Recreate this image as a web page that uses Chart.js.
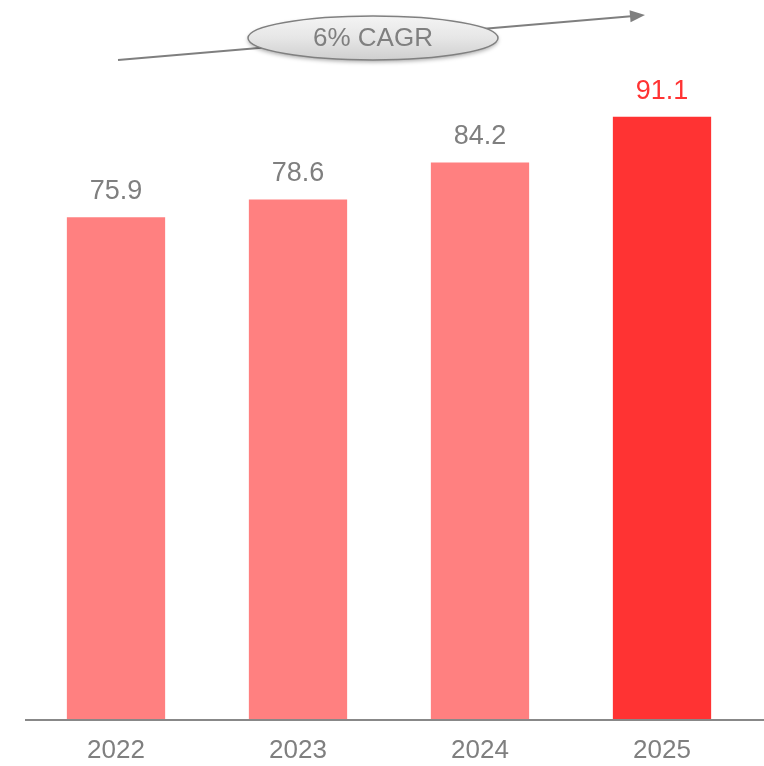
<!DOCTYPE html>
<html>
<head>
<meta charset="utf-8">
<title>Market size 2022-2025</title>
<style>
  html, body { margin: 0; padding: 0; background: #fff; }
</style>
</head>
<body>
<canvas id="myChart" width="764" height="766"></canvas>
<script src="https://cdn.jsdelivr.net/npm/chart.js"></script>
<script>
  // data
  const years = ['2022', '2023', '2024', '2025'];
  const values = [75.9, 78.6, 84.2, 91.1];
  const cagrLabel = '6% CAGR';

  const barColors = ['#ff8080', '#ff8080', '#ff8080', '#ff3333'];
  const labelColors = ['#7f7f7f', '#7f7f7f', '#7f7f7f', '#ff3333'];
  const fontFamily = '"Liberation Sans", Arial, sans-serif';

  // value labels over the bars, baseline and the CAGR arrow
  const decorations = {
    id: 'decorations',
    beforeDatasetsDraw(chart) {
      const c = chart.ctx;
      const y0 = chart.scales.y.getPixelForValue(0);
      c.save();
      c.strokeStyle = '#888888';
      c.lineWidth = 2;
      c.beginPath();
      c.moveTo(chart.chartArea.left, y0 + 1);
      c.lineTo(chart.width, y0 + 1);
      c.stroke();
      c.restore();
    },
    afterDatasetsDraw(chart) {
      const c = chart.ctx;
      const bars = chart.getDatasetMeta(0).data;
      c.save();
      c.font = '27px ' + fontFamily;
      c.textAlign = 'center';
      c.textBaseline = 'alphabetic';
      bars.forEach((bar, i) => {
        c.fillStyle = labelColors[i];
        c.fillText(values[i].toFixed(1), bar.x, bar.y - 18);
      });

      // arrow from first to last bar
      const x1 = bars[0].x + 2, y1 = 60;
      const x2 = bars[bars.length - 1].x - 17, y2 = 15;
      const ang = Math.atan2(y2 - y1, x2 - x1);
      c.strokeStyle = '#7f7f7f';
      c.fillStyle = '#7f7f7f';
      c.lineWidth = 2;
      c.beginPath();
      c.moveTo(x1, y1);
      c.lineTo(x2 - 14 * Math.cos(ang), y2 - 14 * Math.sin(ang));
      c.stroke();
      c.beginPath();
      c.moveTo(x2, y2);
      c.lineTo(x2 - 15 * Math.cos(ang) + 6 * Math.sin(ang), y2 - 15 * Math.sin(ang) - 6 * Math.cos(ang));
      c.lineTo(x2 - 15 * Math.cos(ang) - 6 * Math.sin(ang), y2 - 15 * Math.sin(ang) + 6 * Math.cos(ang));
      c.closePath();
      c.fill();

      // CAGR bubble
      const cx = 373, cy = 38, rx = 125, ry = 22;
      c.save();
      c.shadowColor = 'rgba(0,0,0,0.35)';
      c.shadowBlur = 4;
      c.shadowOffsetY = 2;
      const g = c.createLinearGradient(0, cy - ry, 0, cy + ry);
      g.addColorStop(0, '#f4f4f4');
      g.addColorStop(0.5, '#e6e6e6');
      g.addColorStop(1, '#cfcfcf');
      c.fillStyle = g;
      c.beginPath();
      c.ellipse(cx, cy, rx, ry, 0, 0, Math.PI * 2);
      c.fill();
      c.restore();
      c.strokeStyle = '#808080';
      c.lineWidth = 1.5;
      c.beginPath();
      c.ellipse(cx, cy, rx, ry, 0, 0, Math.PI * 2);
      c.stroke();
      c.fillStyle = '#7f7f7f';
      c.font = '26px ' + fontFamily;
      c.textBaseline = 'middle';
      c.fillText(cagrLabel, cx, cy + 1);
      c.restore();
    }
  };

  const ctx = document.getElementById('myChart').getContext('2d');
  new Chart(ctx, {
    type: 'bar',
    data: {
      labels: years,
      datasets: [{
        data: values,
        backgroundColor: barColors,
        borderWidth: 0,
        categoryPercentage: 1,
        barPercentage: 0.54
      }]
    },
    options: {
      responsive: false,
      animation: false,
      layout: { padding: { left: 25, right: 11, top: 58, bottom: 0 } },
      plugins: {
        legend: { display: false },
        tooltip: { enabled: false }
      },
      scales: {
        x: {
          grid: { display: false },
          border: { display: false },
          ticks: {
            color: '#7f7f7f',
            font: { family: fontFamily, size: 26 },
            padding: 8
          },
          afterFit(scale) { scale.height = 47; }
        },
        y: {
          display: false,
          min: 0,
          max: 100
        }
      }
    },
    plugins: [decorations]
  });
</script>
</body>
</html>
